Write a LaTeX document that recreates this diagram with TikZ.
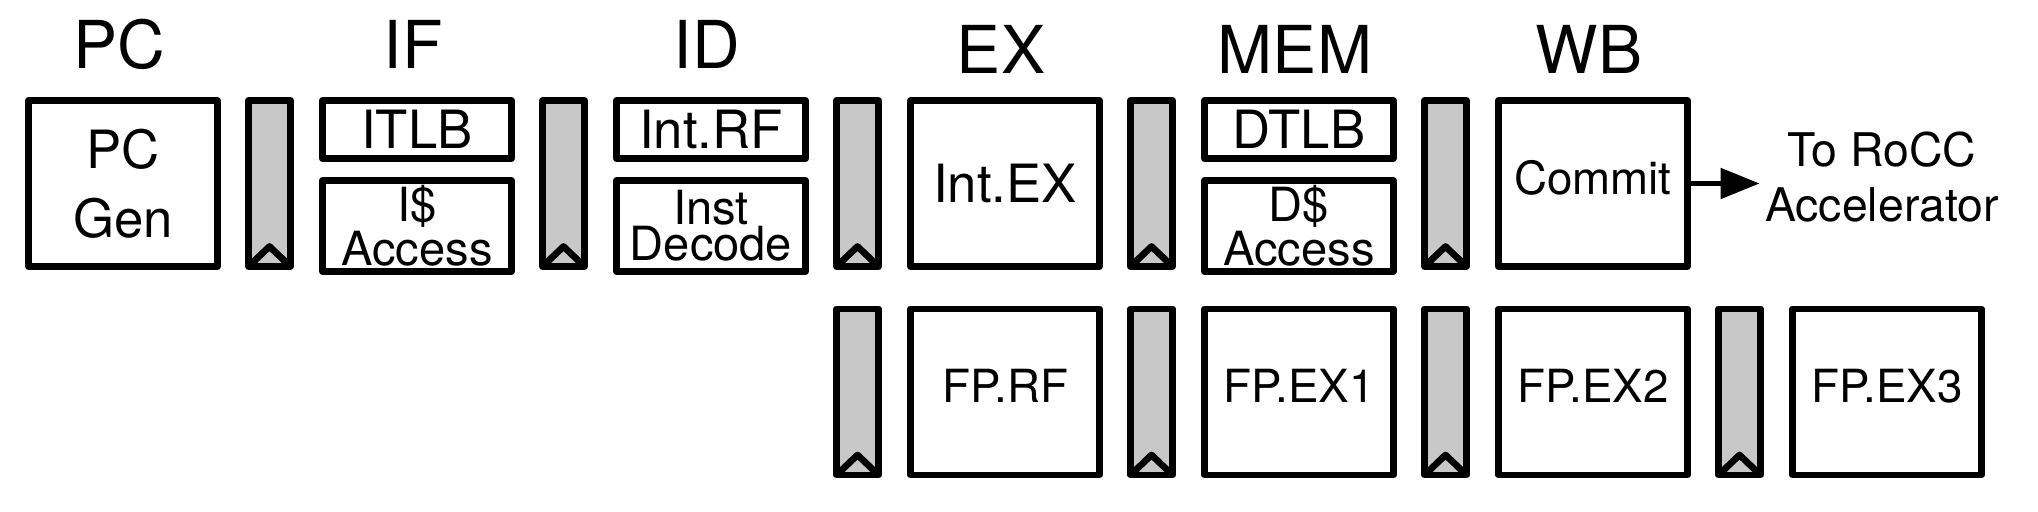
\documentclass[tikz,border=0pt]{standalone}
\usepackage{fontspec}
\setmainfont{TeX Gyre Heros}
\usetikzlibrary{arrows.meta}
\definecolor{regfill}{RGB}{200,200,200}

\begin{document}
\begin{tikzpicture}[
  unit/.style={draw, line width=1.9pt, line join=round, minimum width=1.89cm, minimum height=1.66cm, inner sep=0pt, align=center, font=\fontsize{15}{19.6}\selectfont},
  fpunit/.style={unit, text depth=0.13cm, font=\fontsize{13}{15}\selectfont},
  tlb/.style={draw, line width=1.9pt, line join=round, minimum width=1.89cm, minimum height=0.58cm, inner sep=0pt, font=\fontsize{15}{18}\selectfont},
  cache/.style={draw, line width=1.9pt, line join=round, minimum width=1.89cm, minimum height=0.91cm, inner sep=0pt, align=center, font=\fontsize{13.4}{10.2}\selectfont},
  reg/.style={draw, line width=1.9pt, line join=round, fill=regfill, minimum width=0.42cm, minimum height=1.66cm, inner sep=0pt,
    path picture={\draw[line width=1.9pt, line join=round] (path picture bounding box.south west) -- ([yshift=0.2cm]path picture bounding box.south) -- (path picture bounding box.south east);}},
  stage/.style={anchor=base, font=\fontsize{18.8}{22}\selectfont}]
\useasboundingbox (0,0) rectangle (20.38,5.12);

\node[unit] (pcgen) at (1.23,3.285) {PC\\Gen};
\node[reg] (r1) at (2.695,3.285) {};
\node[tlb] (itlb) at (4.17,3.825) {ITLB};
\node[cache] (icache) at (4.17,2.86) {I\$\\Access};
\node[reg] (r2) at (5.635,3.285) {};
\node[tlb] (intrf) at (7.11,3.825) {Int.RF};
\node[cache] (decode) at (7.11,2.86) {Inst\\Decode};
\node[reg] (r3) at (8.575,3.285) {};
\node[unit] (intex) at (10.05,3.285) {Int.EX};
\node[reg] (r4) at (11.515,3.285) {};
\node[tlb] (dtlb) at (12.99,3.825) {DTLB};
\node[cache] (dcache) at (12.99,2.86) {D\$\\Access};
\node[reg] (r5) at (14.455,3.285) {};
\node[fpunit] (commit) at (15.93,3.285) {Commit};
\node[align=center, inner sep=0.5mm, font=\fontsize{13.2}{15.6}\selectfont] (rocc) at (18.82,3.35) {To RoCC\\Accelerator};
\draw[-{Triangle[length=0.39cm,width=0.3cm]}, line width=1.5pt] (commit.east) -- (commit.east -| rocc.west);

\node[reg] (fr1) at (8.575,1.2) {};
\node[fpunit] (fprf) at (10.05,1.2) {FP.RF};
\node[reg] (fr2) at (11.515,1.2) {};
\node[fpunit] (fpex1) at (12.99,1.2) {FP.EX1};
\node[reg] (fr3) at (14.455,1.2) {};
\node[fpunit] (fpex2) at (15.93,1.2) {FP.EX2};
\node[reg] (fr4) at (17.395,1.2) {};
\node[fpunit] (fpex3) at (18.87,1.2) {FP.EX3};

\node[stage] (pc) at ([xshift=-0.04cm,yshift=0.285cm]pcgen.north) {PC};
\node[stage] (if) at ([xshift=-0.04cm,yshift=0.285cm]itlb.north) {IF};
\node[stage] (id) at ([xshift=-0.04cm,yshift=0.285cm]intrf.north) {ID};
\node[stage] (ex) at ([xshift=-0.04cm,yshift=0.24cm]intex.north) {EX};
\node[stage] (mem) at ([xshift=-0.04cm,yshift=0.24cm]dtlb.north) {MEM};
\node[stage] (wb) at ([xshift=-0.04cm,yshift=0.24cm]commit.north) {WB};
\end{tikzpicture}
\end{document}
